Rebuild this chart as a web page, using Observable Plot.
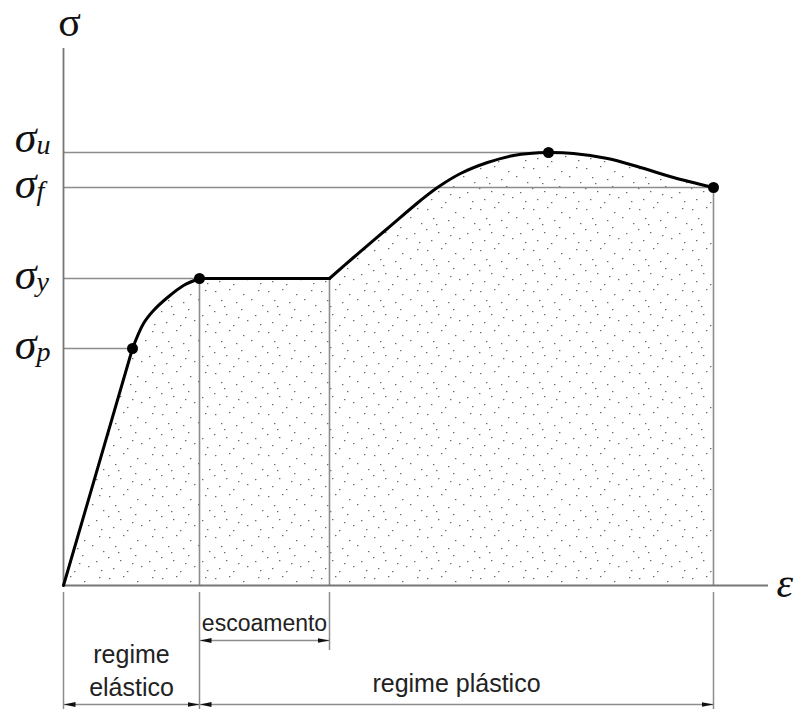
<!DOCTYPE html>
<html>
<head>
<meta charset="utf-8">
<script src="https://cdn.jsdelivr.net/npm/d3@7"></script>
<script src="https://cdn.jsdelivr.net/npm/@observablehq/plot@0.6"></script>
<style>
  html, body { margin: 0; padding: 0; background: #fff; }
  svg { display: block; }
</style>
</head>
<body>
<div id="chart"></div>
<script>
// ---- data (strain ε, stress σ in arbitrary units) ----
const curveStrain  = [0, 6.9,   6.9, 8.0, 9.0, 10.4, 12.0, 13.6,   13.6, 26.6,   26.6, 29.0, 32.4, 35.7, 37.4, 39.7, 42.4, 45.0, 48.5, 51.0, 54.4, 57.7, 61.0, 65.0];
const curveStress  = [0, 23.7,  23.7, 26.2, 27.5, 28.8, 30.0, 30.7,  30.7, 30.7,   30.7, 32.8, 35.7, 38.5, 39.8, 41.2, 42.3, 43.0, 43.3, 43.2, 42.7, 41.8, 40.8, 39.8];
const curveSegment = [0, 0,     1, 1, 1, 1, 1, 1,                    2, 2,         3, 3, 3, 3, 3, 3, 3, 3, 3, 3, 3, 3, 3, 3];

const levelNames  = ["p", "y", "f", "u"];
const levelStress = [23.7, 30.7, 39.8, 43.3];
const levelStrain = [6.9, 13.6, 65.0, 48.5];

const regionStrain = [0, 13.6, 26.6, 65.0];
const regionNames  = ["regime\nelástico", "escoamento", "regime plástico"];

const axisMax = {strain: 70.5, stress: 53.7};

// ---- tables ----
const curve = curveStrain.map((e, i) => ({e, s: curveStress[i], seg: curveSegment[i]}));
const straightSegs = curve.filter(d => d.seg === 0 || d.seg === 2);
const curvedSegs = curve.filter(d => d.seg === 1 || d.seg === 3);
const levels = levelNames.map((n, i) => ({n, s: levelStress[i], e: levelStrain[i]}));
const bounds = [
  {e: regionStrain[1], s: levelStress[1]},
  {e: regionStrain[2], s: levelStress[1]},
  {e: regionStrain[3], s: levelStress[2]}
];

// layout-only tweaks
const labelLift = {u: -11, f: 0, y: 0, p: 0};
const gray = "#8c8c8c";
const serif = "'Liberation Serif', 'DejaVu Serif', serif";
const sans = "'Liberation Sans', Arial, sans-serif";

const dimLow = -11.9, dimEsc = -5.5;
const dims = [
  {e1: regionStrain[0], e2: regionStrain[1], s: dimLow},
  {e1: regionStrain[1], e2: regionStrain[3], s: dimLow},
  {e1: regionStrain[1], e2: regionStrain[2], s: dimEsc}
];
const exts = [
  {e: regionStrain[0], s2: -12.4},
  {e: regionStrain[1], s2: -12.4},
  {e: regionStrain[2], s2: -6.5},
  {e: regionStrain[3], s2: -12.4}
];
const regionLabels = [
  {e: (regionStrain[0] + regionStrain[1]) / 2, s: -11.0, t: regionNames[0], fs: 25},
  {e: (regionStrain[1] + regionStrain[2]) / 2, s: -4.5, t: regionNames[1], fs: 23},
  {e: (regionStrain[1] + regionStrain[3]) / 2, s: -10.6, t: regionNames[2], fs: 25}
];

const plot = Plot.plot({
  width: 797,
  height: 709,
  marginLeft: 63,
  marginRight: 29,
  marginTop: 48,
  marginBottom: 124,
  x: {domain: [0, axisMax.strain], axis: null},
  y: {domain: [0, axisMax.stress], axis: null},
  marks: [
    // stippled area under the curve
    Plot.areaY(straightSegs, {x: "e", y: "s", z: "seg", curve: "linear", fill: "#f4f4f4", ariaDescription: "stipple-area"}),
    Plot.areaY(curvedSegs, {x: "e", y: "s", z: "seg", curve: "catmull-rom", fill: "#f4f4f4", ariaDescription: "stipple-area"}),
    // reference lines
    Plot.ruleY(levels, {y: "s", x1: 0, x2: "e", stroke: gray, strokeWidth: 1.6}),
    Plot.ruleX(bounds, {x: "e", y1: 0, y2: "s", stroke: gray, strokeWidth: 1.6}),
    // axes
    Plot.ruleX([0], {y1: 0, y2: axisMax.stress, stroke: "#777", strokeWidth: 1.8}),
    Plot.ruleY([0], {x1: 0, x2: axisMax.strain, stroke: "#777", strokeWidth: 1.8}),
    // curve
    Plot.line(straightSegs, {x: "e", y: "s", z: "seg", curve: "linear", stroke: "#000", strokeWidth: 3, strokeLinecap: "round"}),
    Plot.line(curvedSegs, {x: "e", y: "s", z: "seg", curve: "catmull-rom", stroke: "#000", strokeWidth: 3, strokeLinecap: "round", strokeLinejoin: "round"}),
    Plot.dot(levels, {x: "e", y: "s", r: 5.5, fill: "#000"}),
    // extension lines and dimension arrows
    Plot.ruleX(exts, {x: "e", y1: -0.7, y2: "s2", stroke: gray, strokeWidth: 1.5}),
    Plot.link(dims, {x1: "e1", x2: "e2", y1: "s", y2: "s", stroke: gray, strokeWidth: 1.5, ariaDescription: "dims"}),
    Plot.text(regionLabels.filter(d => d.fs === 25), {x: "e", y: "s", text: "t", fontFamily: sans, fontSize: 25, fill: "#222", lineAnchor: "bottom", lineHeight: 1.32}),
    Plot.text(regionLabels.filter(d => d.fs === 23), {x: "e", y: "s", text: "t", fontFamily: sans, fontSize: 23, fill: "#222", lineAnchor: "bottom"}),
    // axis symbols
    Plot.text(["σ"], {x: 0, y: axisMax.stress, dx: 6, dy: -13, lineAnchor: "bottom", fontFamily: serif, fontSize: 42, fill: "#111"}),
    Plot.text(["ε"], {x: axisMax.strain, y: 0, dx: 8, dy: -2, textAnchor: "start", lineAnchor: "middle", fontFamily: serif, fontStyle: "italic", fontSize: 42, fill: "#111"}),
    // level labels σ with subscripts
    Plot.text(levels, {x: 0, y: "s", text: () => "σ", dx: -27, textAnchor: "end", lineAnchor: "bottom", fontFamily: serif, fontStyle: "italic", fontSize: 44, fill: "#111", ariaDescription: "sigma"}),
    Plot.text(levels, {x: 0, y: "s", text: "n", dx: -27, textAnchor: "start", lineAnchor: "bottom", fontFamily: serif, fontStyle: "italic", fontSize: 28, fill: "#111", ariaDescription: "sub"})
  ]
});

// ---- post-process styling: stipple pattern, arrowheads, label baselines ----
const svg = d3.select(plot);
const defs = svg.insert("defs", ":first-child");
const pat = defs.append("pattern").attr("id", "stipple").attr("patternUnits", "userSpaceOnUse")
  .attr("width", 53).attr("height", 41);
pat.append("rect").attr("width", 53).attr("height", 41).attr("fill", "#fff");
const dots = [[3,4],[17,2],[31,7],[46,3],[9,13],[24,15],[39,12],[50,18],[2,24],[14,27],[29,22],[43,28],[7,35],[21,38],[35,33],[48,37],[26,30],[12,19]];
dots.forEach(([x, y]) => pat.append("rect").attr("x", x).attr("y", y).attr("width", 1.4).attr("height", 1.2).attr("fill", "#6a6a6a"));
svg.selectAll('g[aria-description="stipple-area"]').attr("fill", "url(#stipple)");
svg.selectAll('g[aria-description="stipple-area"] path').attr("fill", "url(#stipple)");

const mk = defs.append("marker").attr("id", "ah").attr("viewBox", "0 0 12 6")
  .attr("refX", 12).attr("refY", 3).attr("markerWidth", 12).attr("markerHeight", 6)
  .attr("markerUnits", "userSpaceOnUse").attr("orient", "auto-start-reverse");
mk.append("path").attr("d", "M0,0.6 L12,3 L0,5.4 Z").attr("fill", "#111");
svg.selectAll('g[aria-description="dims"] path').attr("marker-start", "url(#ah)").attr("marker-end", "url(#ah)");

// baseline of σ labels relative to their level line
svg.selectAll('g[aria-description="sigma"] text').each(function(d, i) {
  const n = levelNames[i];
  d3.select(this).attr("dy", (10 + labelLift[n]) + "px");
});
svg.selectAll('g[aria-description="sub"] text').each(function(d, i) {
  const n = levelNames[i];
  d3.select(this).attr("dy", (12 + labelLift[n]) + "px");
});

document.getElementById("chart").appendChild(plot);
</script>
</body>
</html>
